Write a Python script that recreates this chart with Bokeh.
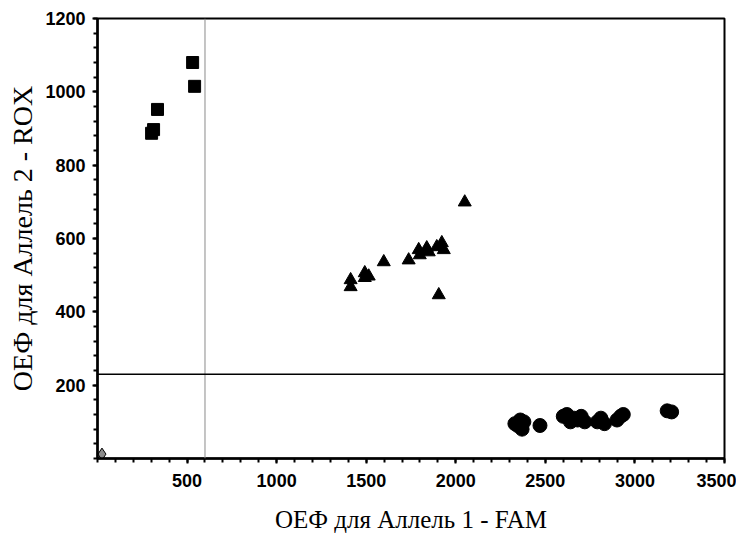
from bokeh.plotting import figure
from bokeh.models import Span, FixedTicker, Range1d
from bokeh.embed import file_html
from bokeh.resources import INLINE

# Allele 2 homozygotes (squares)
sq_x = [302, 313, 335, 531, 542]
sq_y = [887, 897, 952, 1080, 1015]

# Heterozygotes (triangles)
tri_x = [1413, 1413, 1492, 1492, 1514, 1598, 1737, 1793, 1799, 1838, 1849, 1894, 1922, 1933, 1905, 2050]
tri_y = [487, 468, 506, 493, 497, 536, 541, 569, 555, 574, 563, 577, 588, 569, 446, 699]

# Allele 1 homozygotes (circles)
circ_x = [2330, 2345, 2360, 2370, 2380, 2470, 2600, 2620, 2640, 2660, 2680, 2700, 2720,
          2790, 2810, 2830, 2900, 2920, 2935, 3180, 3205]
circ_y = [95, 90, 105, 80, 100, 90, 115, 120, 100, 110, 105, 115, 100,
          100, 110, 95, 105, 115, 120, 130, 127]

# No template control (diamond)
ntc_x = [25]
ntc_y = [12]

x_cut = 600
y_cut = 230

x_major = [500, 1000, 1500, 2000, 2500, 3000, 3500]
y_major = [200, 400, 600, 800, 1000, 1200]

p = figure(frame_width=627, frame_height=440, output_backend="svg", toolbar_location=None,
           x_range=Range1d(0, 3500), y_range=Range1d(0, 1200),
           min_border_left=97, min_border_right=12, min_border_top=18, min_border_bottom=72)

p.xgrid.visible = False
p.ygrid.visible = False
p.outline_line_color = "black"
p.outline_line_width = 2

p.xaxis.ticker = FixedTicker(ticks=x_major, minor_ticks=list(range(0, 3501, 100)))
p.yaxis.ticker = FixedTicker(ticks=y_major, minor_ticks=list(range(0, 1201, 40)))

for ax in (p.xaxis[0], p.yaxis[0]):
    ax.axis_line_color = "black"
    ax.axis_line_width = 2.5
    ax.major_tick_line_color = "black"
    ax.major_tick_line_width = 2
    ax.minor_tick_line_color = "black"
    ax.minor_tick_line_width = 2
    ax.major_tick_in = 0
    ax.major_tick_out = 5
    ax.minor_tick_in = 0
    ax.minor_tick_out = 4
    ax.major_label_text_font = "Liberation Sans"
    ax.major_label_text_font_style = "bold"
    ax.major_label_text_font_size = "18px"
    ax.major_label_text_color = "black"
    ax.axis_label_text_font = "Liberation Serif"
    ax.axis_label_text_font_style = "normal"
    ax.axis_label_text_color = "black"

p.xaxis.axis_label = "ОЕФ для Аллель 1 - FAM"
p.yaxis.axis_label = "ОЕФ для Аллель 2 - ROX"
p.xaxis.axis_label_text_font_size = "25px"
p.yaxis.axis_label_text_font_size = "28px"
p.xaxis.major_label_standoff = 10
p.xaxis.axis_label_standoff = 16
p.yaxis.major_label_standoff = 7
p.yaxis.axis_label_standoff = 4

p.add_layout(Span(location=x_cut, dimension="height", line_color="#8a8a8a", line_width=1))
p.add_layout(Span(location=y_cut, dimension="width", line_color="black", line_width=1.5))

p.scatter(sq_x, sq_y, marker="square", size=12, fill_color="black", line_color="black")
p.scatter(tri_x, tri_y, marker="triangle", size=13, fill_color="black", line_color="black")
p.scatter(circ_x, circ_y, marker="circle", size=14, fill_color="black", line_color="black")
p.scatter(ntc_x, ntc_y, marker="diamond", size=12, fill_color="#8c8c8c", line_color="black")

open("out.html", "w").write(file_html(p, INLINE))
